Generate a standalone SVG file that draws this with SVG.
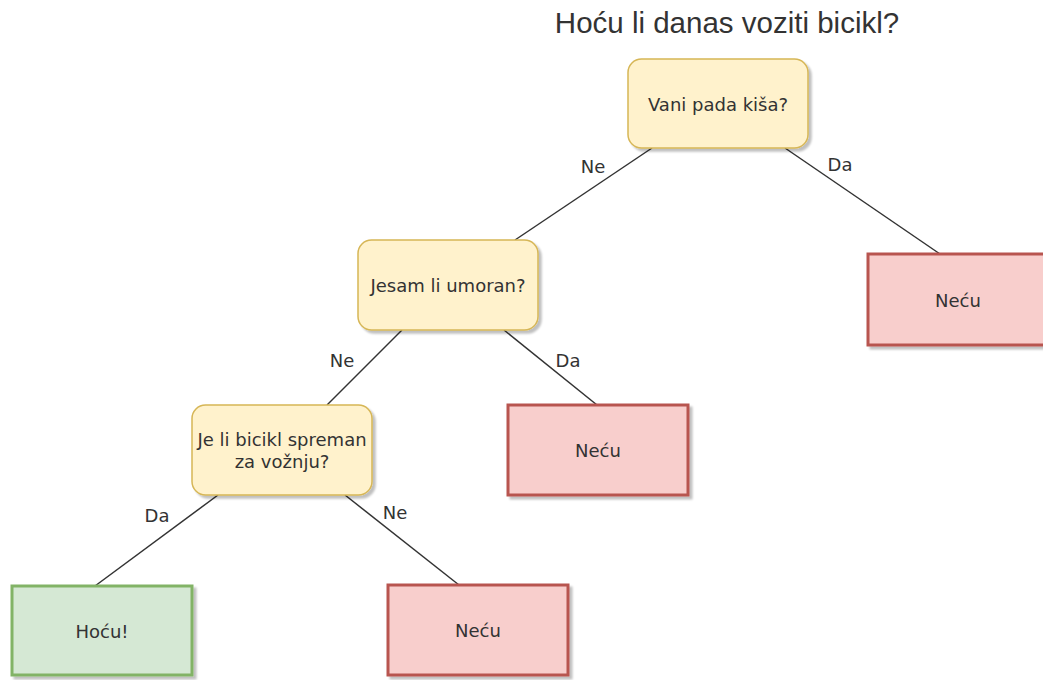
<svg xmlns="http://www.w3.org/2000/svg" width="1043" height="680" viewBox="0 0 1043 680">
  <defs>
    <filter id="shadow" x="-10%" y="-10%" width="130%" height="130%">
      <feGaussianBlur in="SourceAlpha" stdDeviation="1.2"/>
      <feOffset dx="3" dy="3" result="b"/>
      <feComponentTransfer><feFuncA type="linear" slope="0.25"/></feComponentTransfer>
      <feMerge><feMergeNode/><feMergeNode in="SourceGraphic"/></feMerge>
    </filter>
  </defs>
  <style>
    .q { fill: #fff2cc; stroke: #d6b656; stroke-width: 1.5; filter: url(#shadow); }
    .no { fill: #f8cecc; stroke: #b85450; stroke-width: 3; filter: url(#shadow); }
    .yes { fill: #d5e8d4; stroke: #82b366; stroke-width: 3; filter: url(#shadow); }
    .t { font-family: "DejaVu Sans", Verdana, sans-serif; font-size: 18px; fill: #333333; text-anchor: middle; }
    .lbl { font-family: "DejaVu Sans", Verdana, sans-serif; font-size: 18px; fill: #333333; text-anchor: middle; }
    .edge { stroke: #333333; stroke-width: 1.5; fill: none; }
    .title { font-family: "Liberation Sans", Arial, sans-serif; font-size: 29.5px; fill: #333333; text-anchor: middle; }
  </style>
  <rect width="1043" height="680" fill="#ffffff"/>
  <text class="title" x="727" y="33">Hoću li danas voziti bicikl?</text>

  <g id="connectors">
    <line class="edge" x1="652" y1="148" x2="515" y2="240"/>
    <line class="edge" x1="785" y1="148" x2="940" y2="254"/>
    <line class="edge" x1="402" y1="330" x2="327" y2="405"/>
    <line class="edge" x1="504" y1="330" x2="597" y2="405"/>
    <line class="edge" x1="218" y1="495" x2="95" y2="586"/>
    <line class="edge" x1="345" y1="495" x2="459" y2="585"/>
    <text class="lbl" x="593" y="173">Ne</text>
    <text class="lbl" x="840" y="171">Da</text>
    <text class="lbl" x="342" y="367">Ne</text>
    <text class="lbl" x="568" y="367">Da</text>
    <text class="lbl" x="157" y="522">Da</text>
    <text class="lbl" x="395" y="519">Ne</text>
  </g>

  <g id="q-kisa">
    <rect class="q" x="628" y="59" width="180" height="89" rx="13.5"/>
    <text class="t" x="718" y="110.5">Vani pada kiša?</text>
  </g>
  <g id="q-umoran">
    <rect class="q" x="358" y="240" width="180" height="90" rx="13.5"/>
    <text class="t" x="448" y="292">Jesam li umoran?</text>
  </g>
  <g id="q-bicikl">
    <rect class="q" x="192" y="405" width="180" height="90" rx="13.5"/>
    <text class="t" x="282" y="446">Je li bicikl spreman</text>
    <text class="t" x="282" y="468">za vožnju?</text>
  </g>
  <g id="neces-kisa">
    <rect class="no" x="868" y="254" width="180" height="91"/>
    <text class="t" x="958" y="306.5">Neću</text>
  </g>
  <g id="neces-umoran">
    <rect class="no" x="508" y="405" width="180" height="90"/>
    <text class="t" x="598" y="457">Neću</text>
  </g>
  <g id="hocu">
    <rect class="yes" x="12" y="586" width="180" height="89"/>
    <text class="t" x="102" y="637.5">Hoću!</text>
  </g>
  <g id="neces-bicikl">
    <rect class="no" x="388" y="585" width="180" height="90"/>
    <text class="t" x="478" y="637">Neću</text>
  </g>
</svg>
